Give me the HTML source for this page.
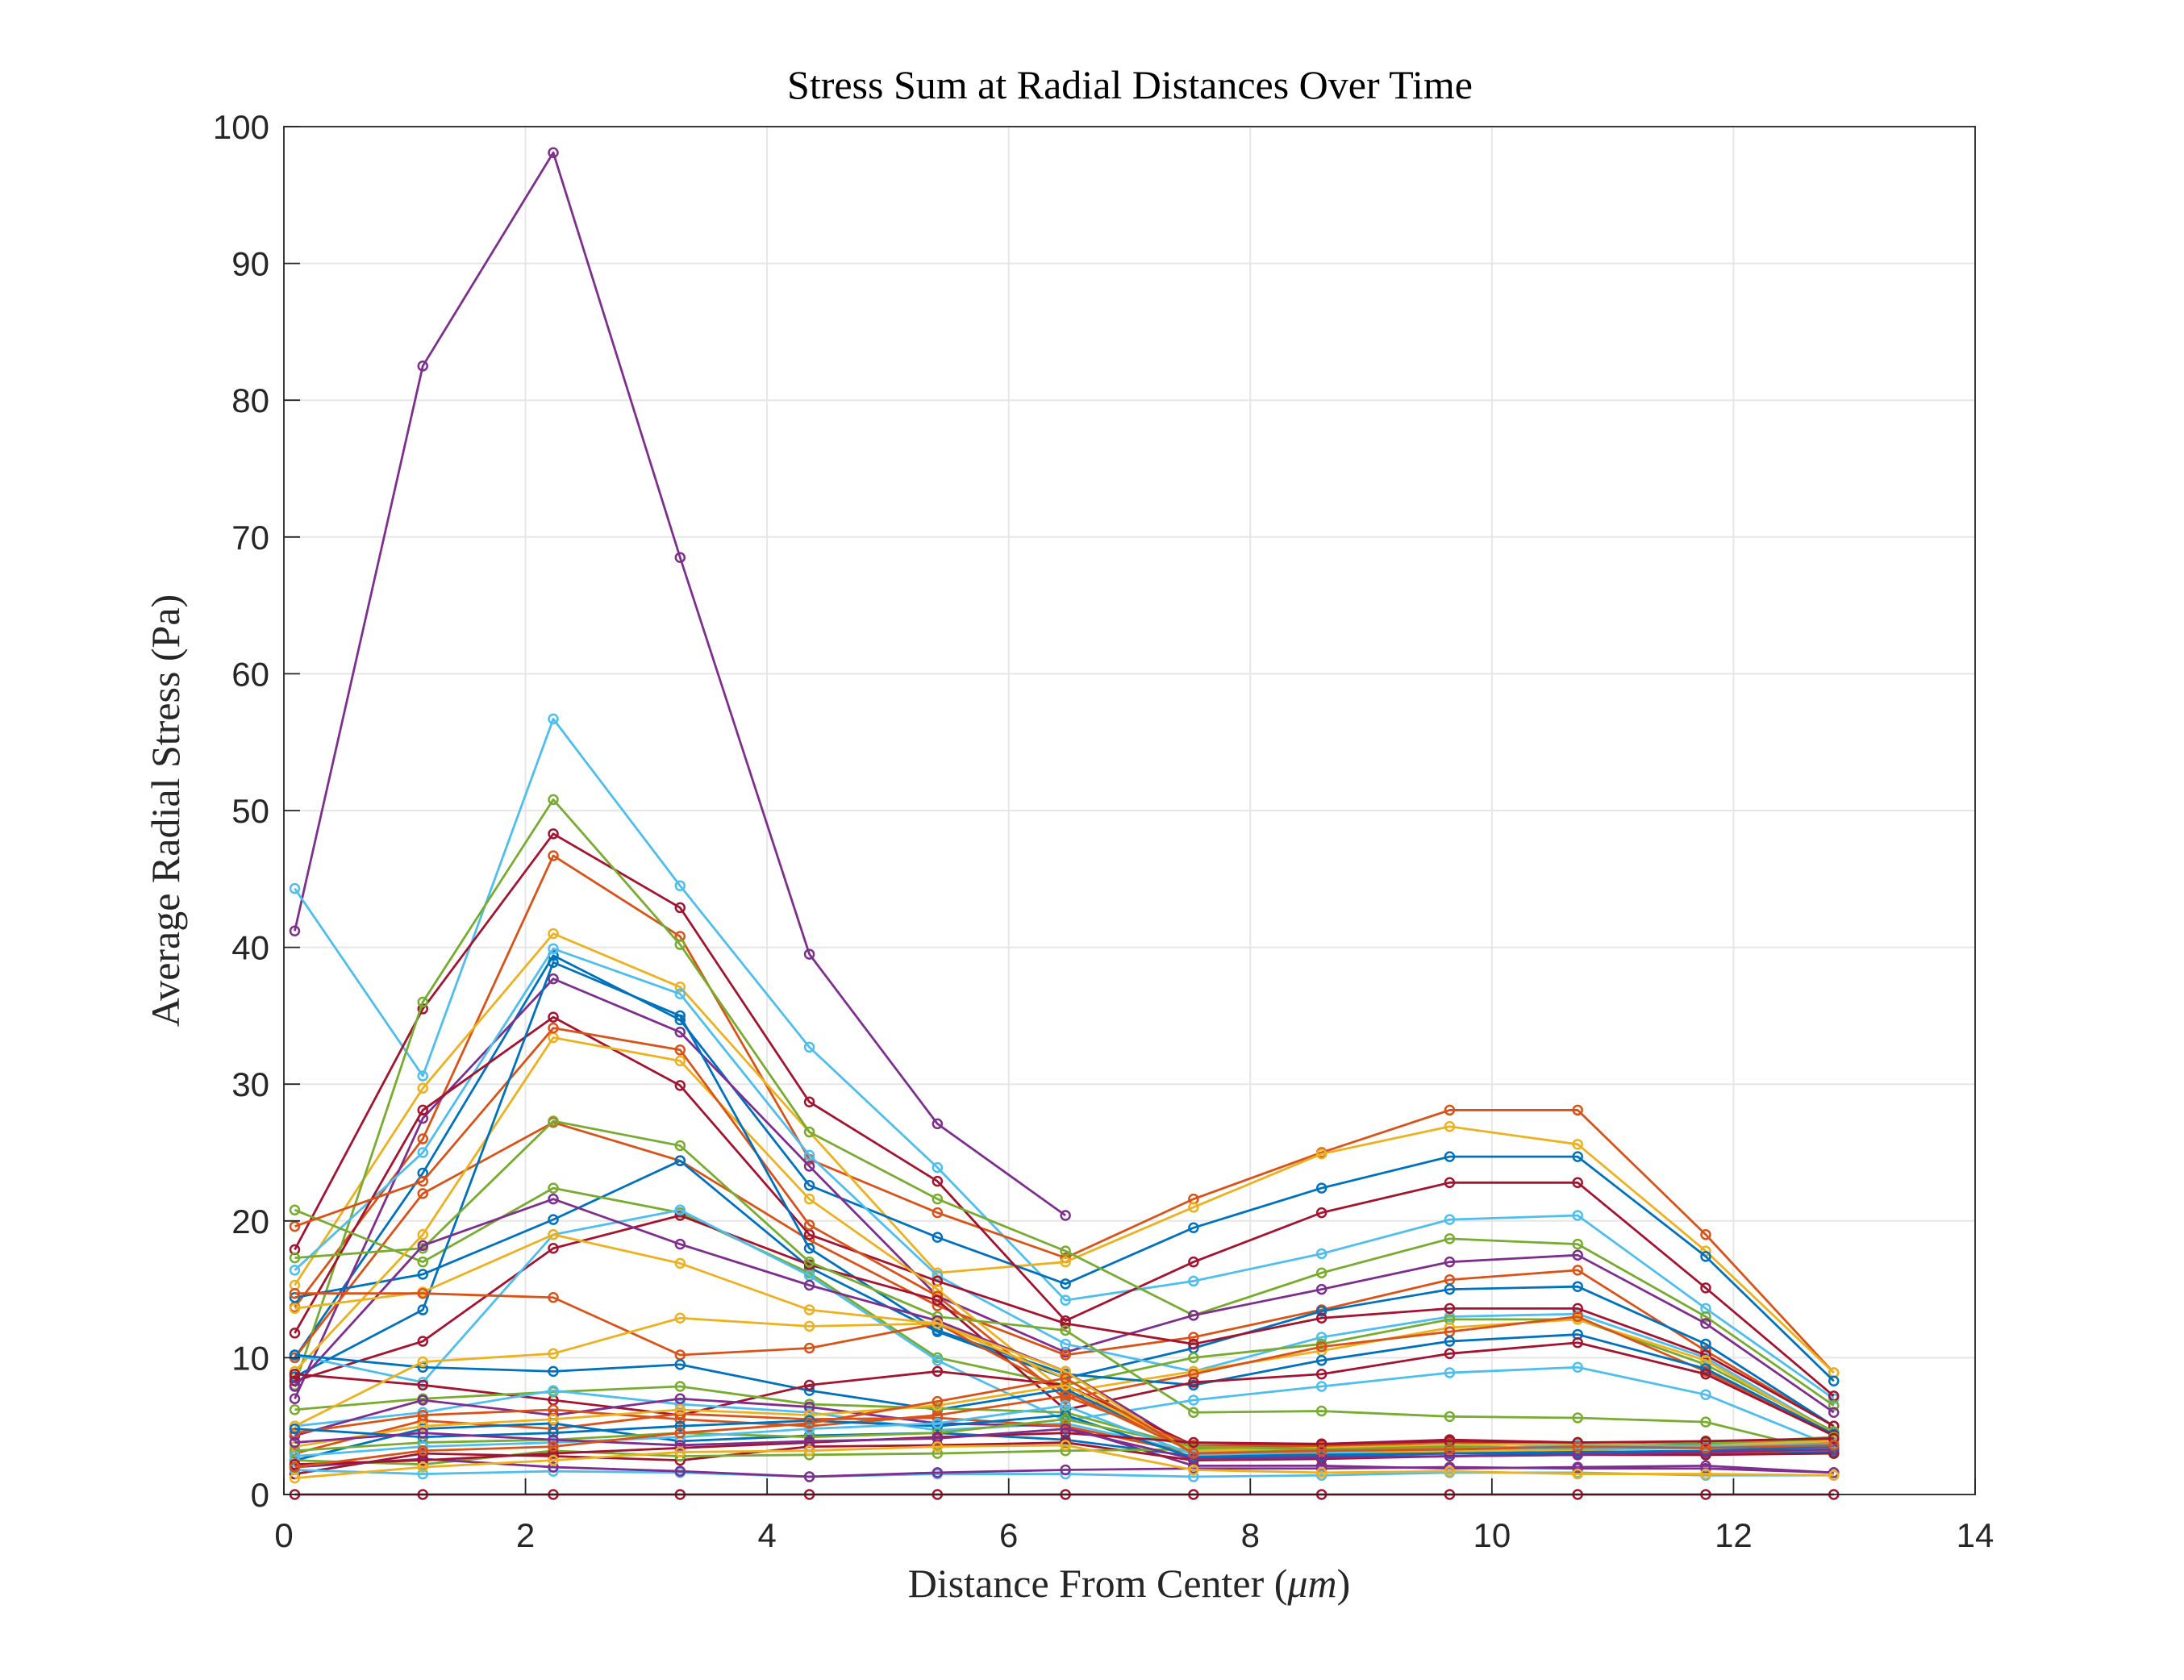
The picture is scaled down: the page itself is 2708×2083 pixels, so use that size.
<!DOCTYPE html>
<html><head><meta charset="utf-8"><style>
body{margin:0;background:#fff;}
svg{display:block;}
</style></head><body>
<svg id="chart" width="2708" height="2083" xmlns="http://www.w3.org/2000/svg">
<rect width="2708" height="2083" fill="#fff"/>
</svg>
<script>
const xPositions = [0.09,1.15,2.23,3.28,4.35,5.41,6.47,7.53,8.59,9.65,10.71,11.77,12.83];
const xTicks = [0,2,4,6,8,10,12,14];
const yTicks = [0,10,20,30,40,50,60,70,80,90,100];
const seriesColors = ["#7E2F8E","#4DBEEE","#D95319","#EDB120","#0072BD","#A2142F","#77AC30","#7E2F8E","#D95319","#0072BD","#4DBEEE","#A2142F","#77AC30","#EDB120","#D95319","#0072BD","#A2142F","#77AC30","#4DBEEE","#7E2F8E","#EDB120","#D95319","#0072BD","#A2142F","#77AC30","#4DBEEE","#7E2F8E","#EDB120","#D95319","#0072BD","#A2142F","#77AC30","#4DBEEE","#7E2F8E","#A2142F","#D95319","#EDB120","#0072BD","#77AC30","#4DBEEE","#A2142F","#7E2F8E","#D95319","#EDB120"];
const seriesValues = [
[41.2,82.5,98.1,68.5,39.5,27.1,20.4],
[44.3,30.6,56.7,44.5,32.7,23.9,14.2,15.6,17.6,20.1,20.4,13.6,7.0],
[13.7,26.0,46.7,40.8,24.5,20.6,17.3,21.6,25.0,28.1,28.1,19.0,8.9],
[15.3,29.7,41.0,37.1,26.5,16.2,17.0,21.0,24.9,26.9,25.6,17.8,8.9],
[10.0,23.5,39.4,34.7,22.6,18.8,15.4,19.5,22.4,24.7,24.7,17.4,8.3],
[17.9,35.5,48.3,42.9,28.7,22.9,12.7,17.0,20.6,22.8,22.8,15.1,7.2],
[8.0,36.0,50.8,40.2,26.5,21.6,17.8,13.1,16.2,18.7,18.3,13.0,6.5],
[7.0,27.5,37.7,33.8,24.0,14.5,10.4,13.1,15.0,17.0,17.5,12.5,6.0],
[10.0,22.0,27.2,24.4,18.6,13.8,10.2,11.5,13.5,15.7,16.4,10.5,5.0],
[14.4,16.1,20.1,24.4,16.6,11.9,8.5,10.7,13.4,15.0,15.2,11.0,5.0],
[16.4,25.0,39.9,36.6,24.8,16.0,11.0,9.0,11.5,13.0,13.2,10.0,4.5],
[11.8,28.1,34.9,29.9,19.0,15.6,12.5,11.0,12.9,13.6,13.6,10.2,5.0],
[20.8,17.0,22.4,20.6,16.2,10.0,8.0,10.0,11.0,12.8,12.8,9.5,4.6],
[9.0,19.0,33.4,31.7,21.6,15.0,7.5,9.0,10.5,12.2,12.8,9.8,4.4],
[19.6,22.9,34.1,32.5,19.7,14.5,7.0,8.8,10.8,11.9,13.0,9.0,4.4],
[8.6,13.5,38.9,35.0,18.0,12.0,8.8,8.0,9.8,11.2,11.7,9.2,4.4],
[8.3,11.2,18.0,20.4,16.8,14.2,6.2,8.2,8.8,10.3,11.1,8.8,4.3],
[17.3,18.0,27.3,25.5,17.0,13.0,12.0,6.0,6.1,5.7,5.6,5.3,3.0],
[10.2,8.2,19.0,20.8,16.0,9.8,5.4,6.9,7.9,8.9,9.3,7.3,3.5],
[7.9,18.2,21.6,18.3,15.3,12.7,9.0,3.3,3.7,4.0,3.7,3.6,3.6],
[13.6,14.8,19.0,16.9,13.5,12.5,8.5,3.0,3.0,3.2,3.4,3.4,3.5],
[14.7,14.7,14.4,10.2,10.7,12.5,7.5,3.1,3.2,3.3,3.5,3.4,3.4],
[10.2,9.3,9.0,9.5,7.6,6.2,7.7,3.3,3.1,3.6,3.7,3.5,3.3],
[8.8,8.0,6.9,5.8,8.0,9.0,8.0,3.6,3.6,4.0,3.8,3.8,3.6],
[6.2,7.0,7.5,7.9,6.6,6.3,6.0,3.4,3.5,3.4,3.4,3.9,3.4],
[5.0,6.0,7.6,6.6,6.0,4.7,5.2,3.1,3.3,3.5,3.3,3.4,3.3],
[4.3,6.9,5.8,7.0,6.4,5.2,5.0,2.1,2.1,1.9,2.0,2.1,1.6],
[5.0,9.7,10.3,12.9,12.3,12.5,9.0,2.9,3.0,3.1,3.2,3.0,3.0],
[3.0,5.4,4.8,5.9,5.5,5.6,5.0,3.0,2.9,3.0,3.1,3.0,3.2],
[2.5,4.8,5.2,3.9,4.3,4.5,4.0,2.8,2.9,3.0,3.0,2.9,3.1],
[1.5,3.0,2.8,2.5,3.5,3.6,3.8,2.5,2.6,2.8,2.9,2.9,3.0],
[2.5,2.2,3.2,2.8,2.9,3.0,3.2,3.3,3.2,3.4,3.5,3.6,4.0],
[1.8,1.5,1.7,1.6,1.3,1.5,1.5,1.3,1.4,1.6,1.6,1.4,1.4],
[2.0,2.6,2.0,1.7,1.3,1.6,1.8,1.9,1.9,2.0,1.9,1.9,1.6],
[0,0,0,0,0,0,0,0,0,0,0,0,0],
[4.5,5.8,6.2,5.5,5.0,5.8,7.2,3.6,3.5,3.8,3.6,3.7,3.8],
[3.5,5.0,5.5,6.2,5.8,6.5,8.0,3.2,3.4,3.6,3.7,3.6,3.9],
[4.8,4.2,4.5,5.0,5.4,5.0,5.8,2.7,2.8,3.0,3.1,3.2,3.5],
[3.2,3.8,4.0,4.5,4.2,4.5,5.5,3.5,3.3,3.5,3.4,3.7,4.2],
[2.8,3.5,3.8,4.2,4.8,5.2,6.5,2.9,3.1,3.3,3.6,3.5,3.7],
[2.2,2.5,3.0,3.4,3.8,4.2,4.5,3.8,3.7,3.9,3.8,3.9,4.1],
[3.8,4.5,4.0,3.6,3.9,4.1,4.8,2.6,2.7,2.8,2.9,3.1,3.3],
[2.0,3.2,3.5,4.5,5.2,6.8,8.5,3.0,3.2,3.3,3.5,3.4,3.6],
[1.2,2.0,2.5,3.1,3.2,3.5,3.6,1.8,1.6,1.7,1.5,1.5,1.4]
];
const L=352,R=2449,T=157,B=1853;
const xs=v=>L+v/14*(R-L);
const ys=v=>B-v/100*(B-T);
const svg=document.getElementById('chart');
const NS="http://www.w3.org/2000/svg";
function mk(tag,attrs){const e=document.createElementNS(NS,tag);for(const k in attrs)e.setAttribute(k,attrs[k]);return e;}
xTicks.forEach(t=>{
  const l=mk('line',{x1:xs(t),x2:xs(t),y1:T,y2:B,stroke:'#e6e6e6','stroke-width':2});
  
  
  svg.appendChild(l);
});
yTicks.forEach(t=>{
  const l=mk('line',{x1:L,x2:R,y1:ys(t),y2:ys(t),stroke:'#e6e6e6','stroke-width':2});
  
  
  svg.appendChild(l);
});
seriesValues.forEach((vals,i)=>{
  const g=mk('g',{});
  
  
  const c=seriesColors[i%seriesColors.length];
  const pts=vals.map((v,j)=>xs(xPositions[j])+','+ys(v)).join(' ');
  const pl=mk('polyline',{points:pts,fill:'none',stroke:c,'stroke-width':2.8,'stroke-linejoin':'round'});
  
  
  g.appendChild(pl);
  vals.forEach((v,j)=>{
    const ci=mk('circle',{cx:xs(xPositions[j]),cy:ys(v),r:5.5,fill:'none',stroke:c,'stroke-width':2.5});
    
    
    g.appendChild(ci);
  });
  svg.appendChild(g);
});
const box=mk('rect',{x:L,y:T,width:R-L,height:B-T,fill:'none',stroke:'#262626','stroke-width':1.8});


svg.appendChild(box);
xTicks.forEach(t=>{
  const tk=mk('line',{x1:xs(t),x2:xs(t),y1:B,y2:B-20,stroke:'#262626','stroke-width':1.8});
  
  
  svg.appendChild(tk);
  const tx=mk('text',{x:xs(t),y:1918,'text-anchor':'middle','font-family':'Liberation Sans, sans-serif','font-size':42,fill:'#262626'});
  tx.textContent=t;
  
  
  svg.appendChild(tx);
});
yTicks.forEach(t=>{
  const tk=mk('line',{x1:L,x2:L+20,y1:ys(t),y2:ys(t),stroke:'#262626','stroke-width':1.8});
  
  
  svg.appendChild(tk);
  const tx=mk('text',{x:334,y:ys(t)+15,'text-anchor':'end','font-family':'Liberation Sans, sans-serif','font-size':42,fill:'#262626'});
  tx.textContent=t;
  
  
  svg.appendChild(tx);
});
</script>
<svg style="position:absolute;left:0;top:0" width="2708" height="2083" xmlns="http://www.w3.org/2000/svg">
<text x="1401" y="122" text-anchor="middle" font-family="Liberation Serif, serif" font-size="50" fill="#000">Stress Sum at Radial Distances Over Time</text>
<text x="1400" y="1980" text-anchor="middle" font-family="Liberation Serif, serif" font-size="50" fill="#262626">Distance From Center (<tspan font-style="italic">μm</tspan>)</text>
<text transform="translate(222,1005) rotate(-90)" text-anchor="middle" font-family="Liberation Serif, serif" font-size="50" fill="#262626">Average Radial Stress (Pa)</text>
</svg>
</body></html>
